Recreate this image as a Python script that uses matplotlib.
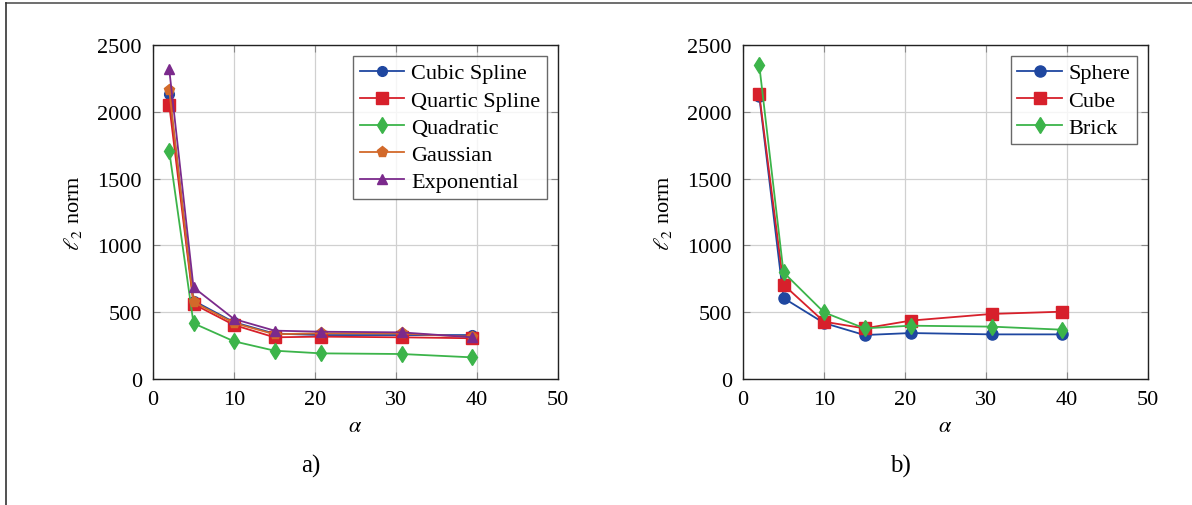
import numpy as np
import matplotlib
matplotlib.use("Agg")
import matplotlib.pyplot as plt
from matplotlib.lines import Line2D

plt.rcParams['font.family'] = ['Liberation Serif', 'DejaVu Serif']
plt.rcParams['mathtext.fontset'] = 'stix'

# Data
alpha = [2, 5, 10, 15, 20.7, 30.7, 39.4]

# a) kernels
cubic = [2130, 586, 425, 340, 329, 329, 329]
quartic = [2053, 561, 404, 312, 317, 312, 305]
quadratic = [1709, 417, 282, 212, 192, 187, 162]
gaussian = [2165, 576, 419, 335, 342, 341, 315]
exponential = [2320, 686, 449, 362, 354, 349, 312]

# b) shapes
sphere = [2120, 606, 419, 329, 344, 334, 334]
cube = [2133, 706, 429, 379, 437, 487, 504]
brick = [2353, 798, 499, 379, 399, 392, 369]

blue = '#1f47a0'
red = '#d7202b'
green = '#3cb44a'
orange = '#d2692a'
purple = '#7b2a8c'

fig = plt.figure(figsize=(11.92, 5.06), dpi=100)
ax1 = fig.add_axes([153/1192, 1-380/506, 405/1192, 334/506])
ax2 = fig.add_axes([743/1192, 1-380/506, 405/1192, 334/506])

lw = 1.3
ax1.plot(alpha, cubic, color=blue, marker='o', ms=7, lw=lw, label='Cubic Spline')
ax1.plot(alpha, quartic, color=red, marker='s', ms=8, lw=lw, label='Quartic Spline')
ax1.plot(alpha, quadratic, color=green, marker='d', ms=8, lw=lw, label='Quadratic')
ax1.plot(alpha, gaussian, color=orange, marker='p', ms=8, lw=lw, label='Gaussian')
ax1.plot(alpha, exponential, color=purple, marker='^', ms=7, lw=lw, label='Exponential')

ax2.plot(alpha, sphere, color=blue, marker='o', ms=8, lw=lw, label='Sphere')
ax2.plot(alpha, cube, color=red, marker='s', ms=8, lw=lw, label='Cube')
ax2.plot(alpha, brick, color=green, marker='d', ms=8, lw=lw, label='Brick')

for ax in (ax1, ax2):
    ax.set_xlim(0, 50)
    ax.set_ylim(0, 2500)
    ax.set_xticks(range(0, 51, 10))
    ax.set_yticks(range(0, 2501, 500))
    ax.grid(True, color='#d0d0d0', lw=0.9)
    ax.set_axisbelow(True)
    ax.tick_params(labelsize=16, direction='in', length=5, color='#888888',
                   top=True, right=True, pad=8)
    for s in ax.spines.values():
        s.set_linewidth(1.0)
        s.set_color('#222222')
    ax.set_xlabel(r'$\alpha$', fontsize=16, labelpad=6)
    ax.set_ylabel(r'$\ell_2$ norm', fontsize=16, labelpad=10)
    leg = ax.legend(loc='upper right', fontsize=16, frameon=True, fancybox=False,
                    edgecolor='#444444', borderaxespad=0.5, handlelength=2.0,
                    handletextpad=0.3, labelspacing=0.3, borderpad=0.3)
    leg.get_frame().set_linewidth(1.0)

fig.text(311/1192, 1-466/506, 'a)', fontsize=18, ha='center', va='center')
fig.text(900/1192, 1-466/506, 'b)', fontsize=18, ha='center', va='center')

# outer frame (top and left)
fig.add_artist(Line2D([6/1192, 1], [1-4/506, 1-4/506], color='#555555', lw=1.2))
fig.add_artist(Line2D([6/1192, 6/1192], [0, 1-4/506], color='#333333', lw=1.2))

fig.savefig('out.png', dpi=100)
